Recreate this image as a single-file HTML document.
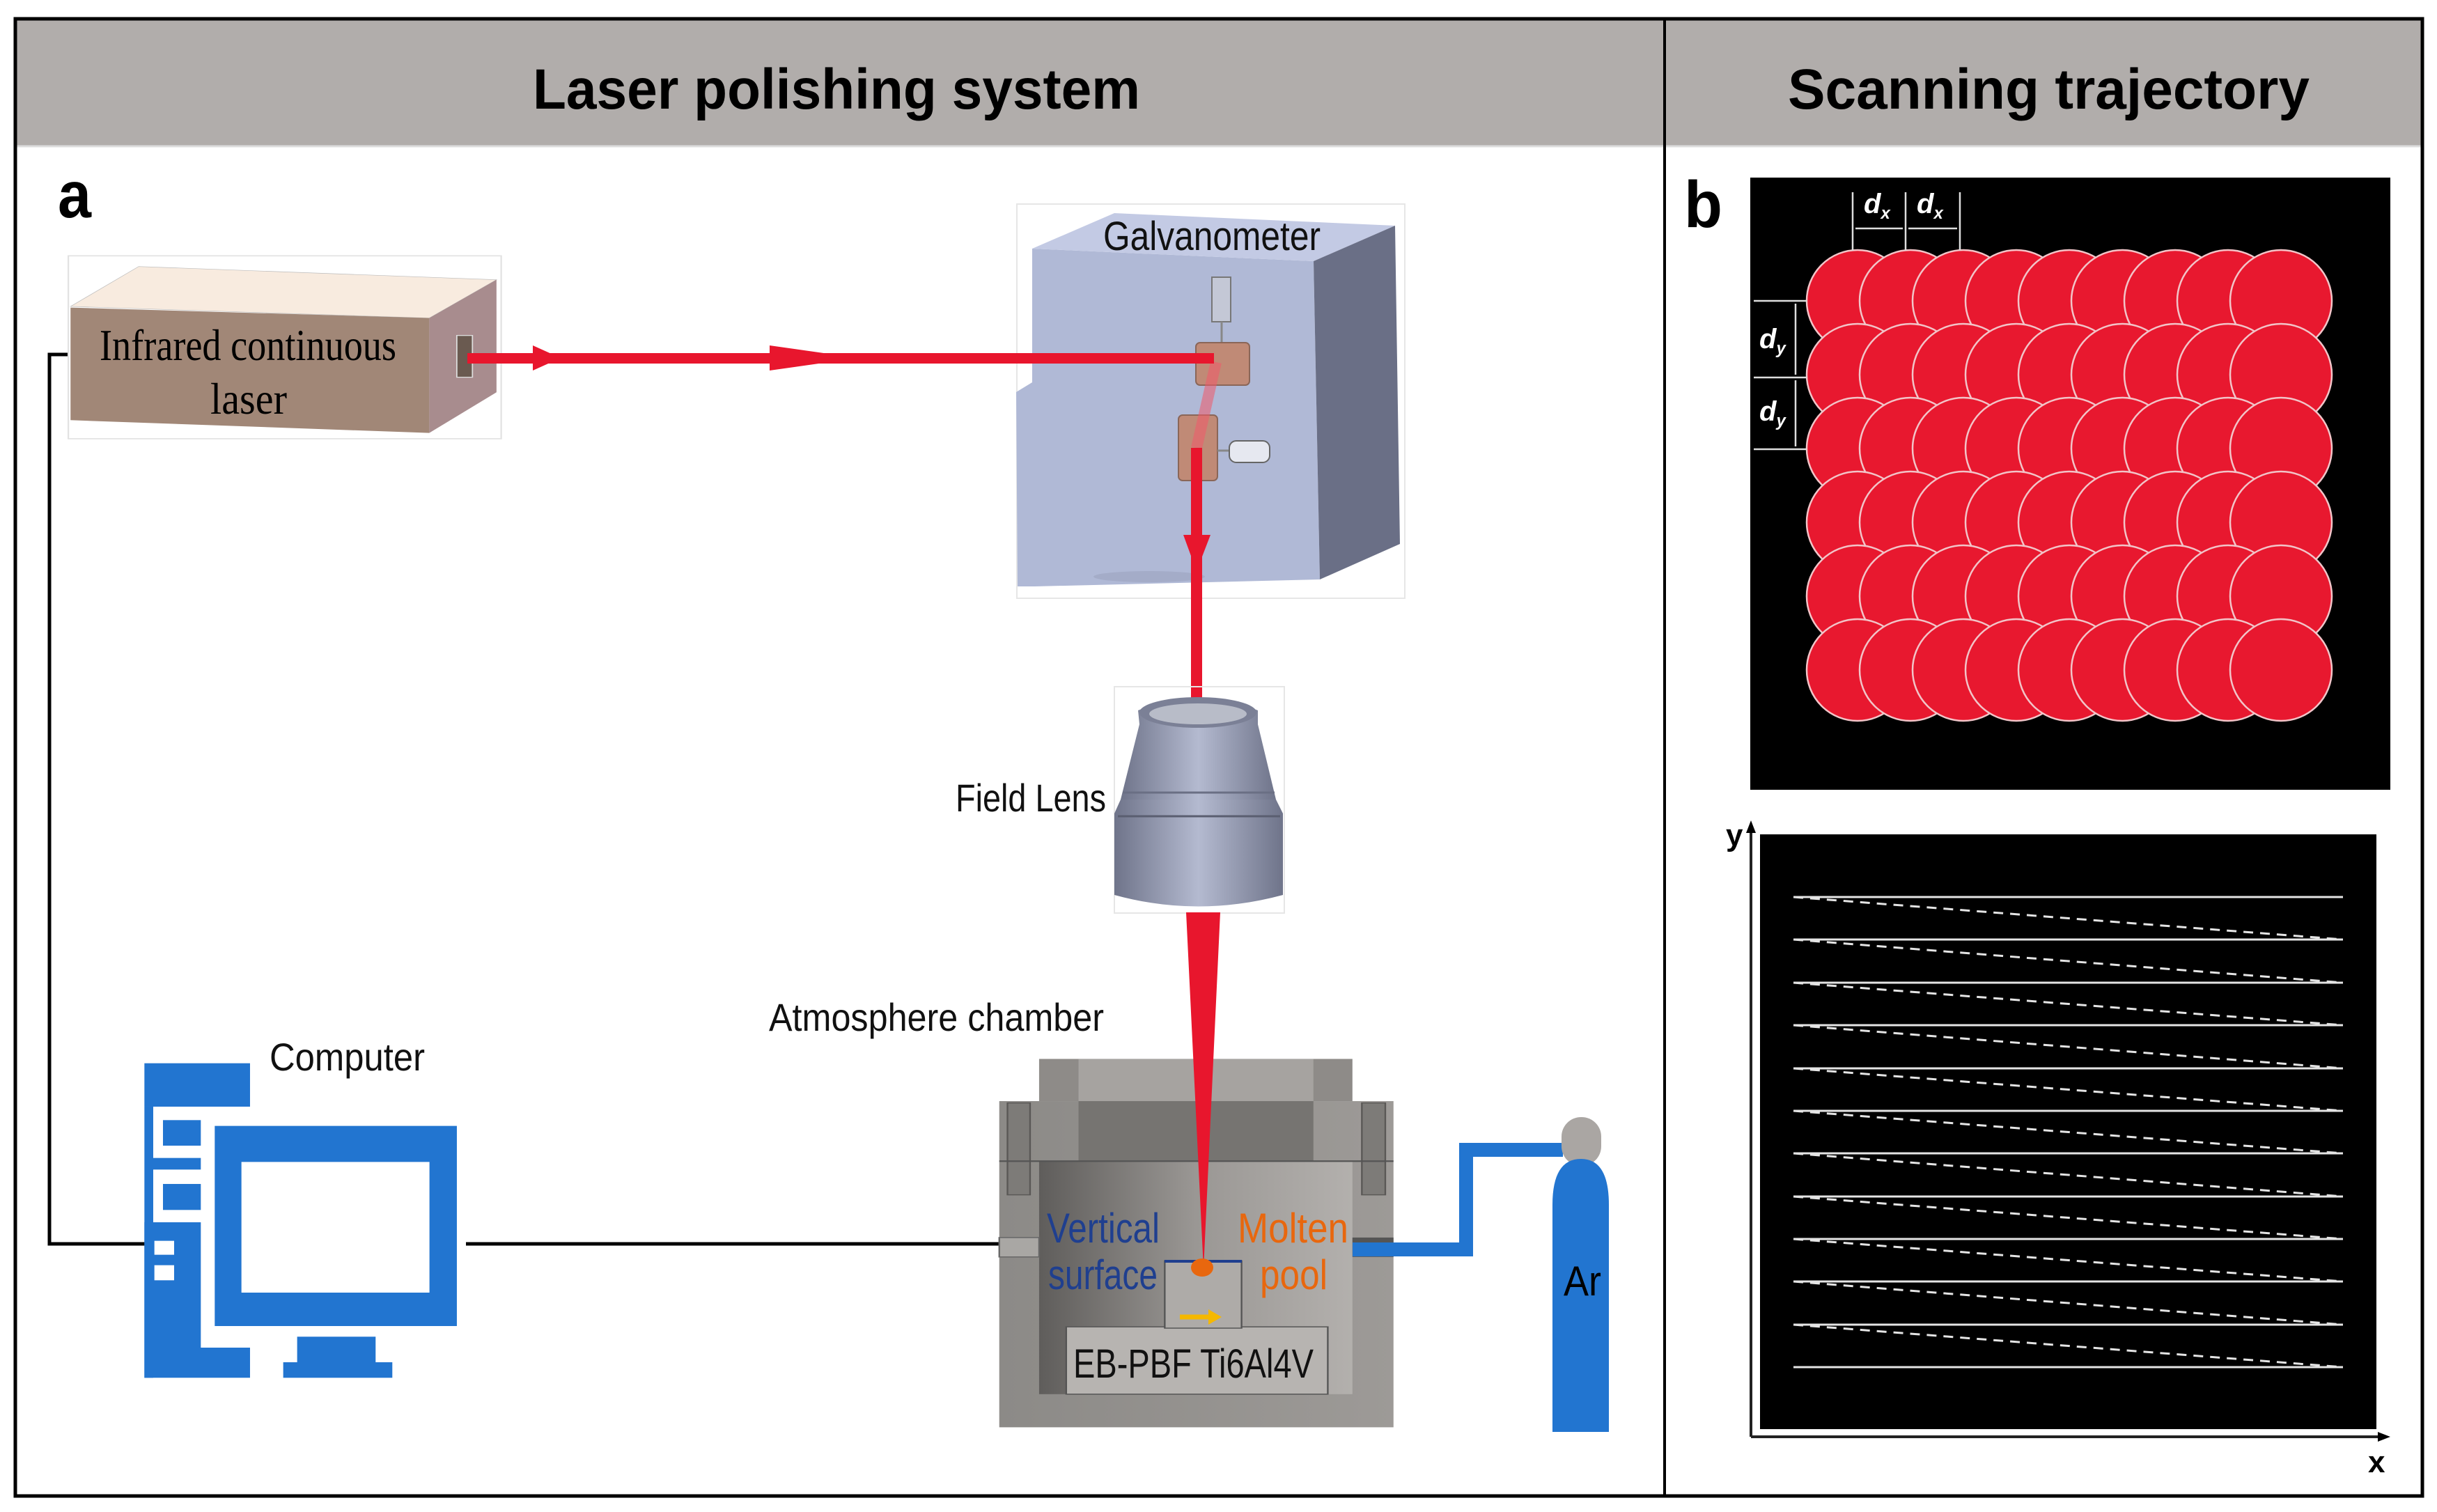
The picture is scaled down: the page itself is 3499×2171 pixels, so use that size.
<!DOCTYPE html>
<html><head><meta charset="utf-8"><style>html,body{margin:0;padding:0;background:#fff}svg{display:block}</style></head>
<body>
<svg width="3499" height="2171" viewBox="0 0 3499 2171" xmlns="http://www.w3.org/2000/svg" font-family="Liberation Sans, sans-serif">
<defs>
<linearGradient id="cav" x1="0" x2="1" y1="0" y2="0"><stop offset="0" stop-color="#5f5d5b"/><stop offset="0.5" stop-color="#9a9794"/><stop offset="1" stop-color="#b3b0ad"/></linearGradient>
<linearGradient id="body" x1="0" x2="1"><stop offset="0" stop-color="#8c8a87"/><stop offset="1" stop-color="#9d9a97"/></linearGradient>
<linearGradient id="lens" x1="0" x2="1"><stop offset="0" stop-color="#6f748a"/><stop offset="0.5" stop-color="#b4bad0"/><stop offset="1" stop-color="#6f748a"/></linearGradient>
</defs>
<rect width="3499" height="2171" fill="#fff"/>
<rect x="22" y="28" width="3456" height="181" fill="#b1adab"/>
<line x1="22" y1="210" x2="3478" y2="210" stroke="#dcdcdc" stroke-width="3"/>
<rect x="22" y="27" width="3456" height="2121" fill="none" stroke="#000" stroke-width="5"/>
<line x1="2390" y1="27" x2="2390" y2="2148" stroke="#000" stroke-width="4"/>
<text x="765" y="156" font-size="82" font-weight="bold" textLength="872" lengthAdjust="spacingAndGlyphs">Laser polishing system</text>
<text x="2567" y="156" font-size="82" font-weight="bold" textLength="749" lengthAdjust="spacingAndGlyphs">Scanning trajectory</text>
<text x="83" y="312" font-size="95" font-weight="bold" textLength="48" lengthAdjust="spacingAndGlyphs">a</text>
<text x="2418" y="326" font-size="95" font-weight="bold" textLength="55" lengthAdjust="spacingAndGlyphs">b</text>

<polyline points="98,509 71,509 71,1786 208,1786" fill="none" stroke="#000" stroke-width="5"/>
<line x1="669" y1="1786" x2="1436" y2="1786" stroke="#000" stroke-width="5"/>

<g transform="translate(60,340) scale(0.4487,0.3333)">
<rect x="85" y="82" width="1385" height="788" fill="none" stroke="#e2e2e2" stroke-width="5"/>
<polygon points="92,300 310,128 1455,185 1240,350" fill="#f8ebdf" stroke="#bbb" stroke-width="2"/>
<polygon points="92,305 1240,350 1240,845 92,790" fill="#a18777"/>
<polygon points="1240,350 1455,185 1455,670 1240,845" fill="#a88c8e"/>
<rect x="1328" y="425" width="50" height="180" fill="#6a5a50" stroke="#ddd" stroke-width="4"/>
</g>
<text x="143" y="517" font-family="Liberation Serif, serif" font-size="64" textLength="426" lengthAdjust="spacingAndGlyphs">Infrared continuous</text>
<text x="302" y="594" font-family="Liberation Serif, serif" font-size="64" textLength="110" lengthAdjust="spacingAndGlyphs">laser</text>

<rect x="1460" y="293" width="557" height="566" fill="none" stroke="#e6e6e6" stroke-width="2"/>
<polygon points="1482,357 1886,375 1895,832 1486,842 1461,842 1459,563 1482,549" fill="#b0b9d6"/>
<polygon points="1482,357 1600,306 2003,324 1886,375" fill="#c3cae4"/>
<polygon points="1886,375 2003,324 2010,781 1895,832" fill="#6a6f86"/>
<ellipse cx="1650" cy="828" rx="80" ry="8" fill="#a4acc8"/>
<rect x="1740" y="398" width="27" height="64" fill="#c4c8d6" stroke="#777" stroke-width="2"/>
<line x1="1754" y1="462" x2="1754" y2="492" stroke="#888" stroke-width="3"/>
<rect x="1717" y="492" width="77" height="61" rx="6" fill="#c08a76" stroke="#8a6658" stroke-width="2"/>
<rect x="1692" y="596" width="56" height="94" rx="6" fill="#c08a76" stroke="#8a6658" stroke-width="2"/>
<line x1="1748" y1="647" x2="1766" y2="647" stroke="#888" stroke-width="3"/>
<rect x="1765" y="633" width="58" height="31" rx="10" fill="#e6e8f0" stroke="#666" stroke-width="2"/>
<line x1="1746" y1="520" x2="1718" y2="643" stroke="#f05a6a" stroke-opacity="0.55" stroke-width="16"/>
<text x="1584" y="359" font-size="58" textLength="312" lengthAdjust="spacingAndGlyphs" fill="#111">Galvanometer</text>

<rect x="671" y="507" width="1072" height="15" fill="#e8162d"/>
<polygon points="765,496 805,514 765,532" fill="#e8162d"/>
<polygon points="1105,496 1232,514 1105,532" fill="#e8162d"/>
<rect x="1710" y="643" width="16" height="370" fill="#e8162d"/>
<polygon points="1699,768 1738,768 1718,820" fill="#e8162d"/>

<rect x="1600" y="986" width="244" height="325" fill="none" stroke="#e6e6e6" stroke-width="2"/>
<path d="M1636,1040 L1634,1020 Q1720,985 1806,1020 L1806,1040 L1832,1148 L1609,1148 Z" fill="url(#lens)"/>
<ellipse cx="1720" cy="1023" rx="84" ry="22" fill="#7b8096"/>
<ellipse cx="1720" cy="1025" rx="70" ry="15" fill="#b8bcc8"/>
<path d="M1600,1168 L1609,1148 L1832,1148 L1842,1168 L1842,1285 Q1720,1318 1600,1285 Z" fill="url(#lens)"/>
<line x1="1605" y1="1172" x2="1838" y2="1172" stroke="#5a5e70" stroke-width="3"/>
<line x1="1612" y1="1138" x2="1830" y2="1138" stroke="#6a6f84" stroke-width="3"/>
<text x="1372" y="1165" font-size="56" textLength="216" lengthAdjust="spacingAndGlyphs" fill="#111">Field Lens</text>

<g transform="translate(1420,1500) scale(0.5896,0.3717)">
<rect x="25" y="218" width="960" height="1260" fill="url(#body)"/>
<rect x="122" y="55" width="763" height="163" fill="#8e8b88"/>
<rect x="218" y="55" width="572" height="163" fill="#a6a3a0"/>
<rect x="218" y="218" width="572" height="232" fill="#767471"/>
<rect x="45" y="225" width="55" height="355" fill="#7d7b78" stroke="#5a5856" stroke-width="4"/>
<rect x="908" y="225" width="57" height="355" fill="#7d7b78" stroke="#5a5856" stroke-width="4"/>
<rect x="122" y="450" width="763" height="900" fill="url(#cav)"/>
<line x1="25" y1="450" x2="985" y2="450" stroke="#555" stroke-width="6"/>
<rect x="25" y="745" width="97" height="75" fill="#a9a7a4" stroke="#666" stroke-width="4"/>
<rect x="885" y="745" width="100" height="75" fill="#555"/>
<rect x="188" y="1090" width="637" height="260" fill="#b7b4b1" stroke="#555" stroke-width="4"/>
<rect x="428" y="835" width="187" height="260" fill="#aeaba8" stroke="#555" stroke-width="4"/>
</g>
<polygon points="1703,1310 1752,1310 1728,1822" fill="#e8162d"/>
<line x1="1672" y1="1811" x2="1783" y2="1811" stroke="#1f3f8f" stroke-width="4"/>
<ellipse cx="1726" cy="1820" rx="16" ry="13" fill="#e8670e"/>
<line x1="1694" y1="1891" x2="1738" y2="1891" stroke="#f5b800" stroke-width="7"/>
<polygon points="1735,1880 1754,1891 1735,1902" fill="#f5b800"/>
<text x="1503" y="1784" font-size="60" textLength="162" lengthAdjust="spacingAndGlyphs" fill="#1f3f8f">Vertical</text>
<text x="1505" y="1851" font-size="60" textLength="157" lengthAdjust="spacingAndGlyphs" fill="#1f3f8f">surface</text>
<text x="1777" y="1784" font-size="60" textLength="159" lengthAdjust="spacingAndGlyphs" fill="#e8670e">Molten</text>
<text x="1809" y="1851" font-size="60" textLength="97" lengthAdjust="spacingAndGlyphs" fill="#e8670e">pool</text>
<text x="1541" y="1978" font-size="58" textLength="345" lengthAdjust="spacingAndGlyphs" fill="#111">EB-PBF Ti6Al4V</text>
<text x="1104" y="1480" font-size="56" textLength="481" lengthAdjust="spacingAndGlyphs" fill="#111">Atmosphere chamber</text>

<path d="M1942,1794 H2105 V1651 H2244" fill="none" stroke="#2275d0" stroke-width="20"/>
<rect x="2242" y="1604" width="57" height="70" rx="28" fill="#aaa6a3"/>
<path d="M2229,2056 V1730 Q2229,1664 2270,1664 Q2310,1664 2310,1730 V2056 Z" fill="#2275d0"/>
<text x="2245" y="1860" font-size="60" textLength="54" lengthAdjust="spacingAndGlyphs" fill="#000">Ar</text>

<g transform="translate(180,1480) scale(0.3333)" fill="#2275d0">
<rect x="82" y="140" width="455" height="187"/>
<rect x="82" y="327" width="38" height="1168"/>
<rect x="162" y="385" width="163" height="110"/>
<rect x="120" y="548" width="205" height="50"/>
<rect x="162" y="660" width="163" height="112"/>
<path d="M120,825 H325 V1365 H537 V1495 H82 V825 Z"/>
<rect x="125" y="905" width="85" height="60" fill="#fff"/>
<rect x="125" y="1010" width="85" height="65" fill="#fff"/>
<path d="M385,410 H1428 V1272 H385 Z M500,565 V1128 H1310 V565 Z" fill-rule="evenodd"/>
<rect x="740" y="1318" width="338" height="112"/>
<rect x="680" y="1428" width="470" height="67"/>
</g>
<text x="387" y="1537" font-size="56" textLength="223" lengthAdjust="spacingAndGlyphs" fill="#111">Computer</text>

<rect x="2513" y="255" width="919" height="879" fill="#000"/>
<g fill="#e8182f" stroke="#f2c4c8" stroke-width="2.5">
<circle cx="2667" cy="432" r="73"/><circle cx="2743" cy="432" r="73"/><circle cx="2819" cy="432" r="73"/><circle cx="2895" cy="432" r="73"/><circle cx="2971" cy="432" r="73"/><circle cx="3047" cy="432" r="73"/><circle cx="3123" cy="432" r="73"/><circle cx="3199" cy="432" r="73"/><circle cx="3275" cy="432" r="73"/>
<circle cx="2667" cy="538" r="73"/><circle cx="2743" cy="538" r="73"/><circle cx="2819" cy="538" r="73"/><circle cx="2895" cy="538" r="73"/><circle cx="2971" cy="538" r="73"/><circle cx="3047" cy="538" r="73"/><circle cx="3123" cy="538" r="73"/><circle cx="3199" cy="538" r="73"/><circle cx="3275" cy="538" r="73"/>
<circle cx="2667" cy="644" r="73"/><circle cx="2743" cy="644" r="73"/><circle cx="2819" cy="644" r="73"/><circle cx="2895" cy="644" r="73"/><circle cx="2971" cy="644" r="73"/><circle cx="3047" cy="644" r="73"/><circle cx="3123" cy="644" r="73"/><circle cx="3199" cy="644" r="73"/><circle cx="3275" cy="644" r="73"/>
<circle cx="2667" cy="750" r="73"/><circle cx="2743" cy="750" r="73"/><circle cx="2819" cy="750" r="73"/><circle cx="2895" cy="750" r="73"/><circle cx="2971" cy="750" r="73"/><circle cx="3047" cy="750" r="73"/><circle cx="3123" cy="750" r="73"/><circle cx="3199" cy="750" r="73"/><circle cx="3275" cy="750" r="73"/>
<circle cx="2667" cy="856" r="73"/><circle cx="2743" cy="856" r="73"/><circle cx="2819" cy="856" r="73"/><circle cx="2895" cy="856" r="73"/><circle cx="2971" cy="856" r="73"/><circle cx="3047" cy="856" r="73"/><circle cx="3123" cy="856" r="73"/><circle cx="3199" cy="856" r="73"/><circle cx="3275" cy="856" r="73"/>
<circle cx="2667" cy="962" r="73"/><circle cx="2743" cy="962" r="73"/><circle cx="2819" cy="962" r="73"/><circle cx="2895" cy="962" r="73"/><circle cx="2971" cy="962" r="73"/><circle cx="3047" cy="962" r="73"/><circle cx="3123" cy="962" r="73"/><circle cx="3199" cy="962" r="73"/><circle cx="3275" cy="962" r="73"/>
</g>
<g stroke="#ddd" stroke-width="2.5" fill="#ddd">
<line x1="2660" y1="276" x2="2660" y2="360"/><line x1="2736" y1="276" x2="2736" y2="360"/><line x1="2814" y1="276" x2="2814" y2="360"/>
<line x1="2664" y1="328" x2="2732" y2="328"/><line x1="2740" y1="328" x2="2810" y2="328"/>
<line x1="2518" y1="432" x2="2594" y2="432"/><line x1="2518" y1="542" x2="2594" y2="542"/><line x1="2518" y1="645" x2="2594" y2="645"/>
<line x1="2578" y1="436" x2="2578" y2="538"/><line x1="2578" y1="546" x2="2578" y2="641"/>
</g>
<g fill="#fff" font-style="italic" font-weight="bold">
<text x="2676" y="306" font-size="40">d<tspan font-size="24" dy="8">x</tspan></text>
<text x="2752" y="306" font-size="40">d<tspan font-size="24" dy="8">x</tspan></text>
<text x="2526" y="500" font-size="40">d<tspan font-size="24" dy="8">y</tspan></text>
<text x="2526" y="604" font-size="40">d<tspan font-size="24" dy="8">y</tspan></text>
</g>

<rect x="2527" y="1198" width="885" height="854" fill="#000"/>
<g stroke="#222" stroke-width="4"><line x1="2514" y1="1190" x2="2514" y2="2063"/><line x1="2514" y1="2063" x2="3420" y2="2063"/></g>
<polygon points="2507,1196 2514,1178 2521,1196" fill="#000"/>
<polygon points="3414,2056 3432,2063 3414,2070" fill="#000"/>
<text x="2478" y="1214" font-size="44" font-weight="bold">y</text>
<text x="3400" y="2114" font-size="44" font-weight="bold">x</text>
<g stroke="#e4e4e4" stroke-width="3">
<line x1="2575" y1="1288" x2="3364" y2="1288"/><line x1="2575" y1="1349" x2="3364" y2="1349"/><line x1="2575" y1="1411" x2="3364" y2="1411"/><line x1="2575" y1="1472" x2="3364" y2="1472"/><line x1="2575" y1="1534" x2="3364" y2="1534"/><line x1="2575" y1="1595" x2="3364" y2="1595"/><line x1="2575" y1="1656" x2="3364" y2="1656"/><line x1="2575" y1="1718" x2="3364" y2="1718"/><line x1="2575" y1="1779" x2="3364" y2="1779"/><line x1="2575" y1="1840" x2="3364" y2="1840"/><line x1="2575" y1="1902" x2="3364" y2="1902"/><line x1="2575" y1="1963" x2="3364" y2="1963"/>
</g>
<g stroke="#e4e4e4" stroke-width="3" stroke-dasharray="14,10">
<line x1="2575" y1="1288" x2="3364" y2="1349"/><line x1="2575" y1="1349" x2="3364" y2="1411"/><line x1="2575" y1="1411" x2="3364" y2="1472"/><line x1="2575" y1="1472" x2="3364" y2="1534"/><line x1="2575" y1="1534" x2="3364" y2="1595"/><line x1="2575" y1="1595" x2="3364" y2="1656"/><line x1="2575" y1="1656" x2="3364" y2="1718"/><line x1="2575" y1="1718" x2="3364" y2="1779"/><line x1="2575" y1="1779" x2="3364" y2="1840"/><line x1="2575" y1="1840" x2="3364" y2="1902"/><line x1="2575" y1="1902" x2="3364" y2="1963"/>
</g>
</svg>
</body></html>
